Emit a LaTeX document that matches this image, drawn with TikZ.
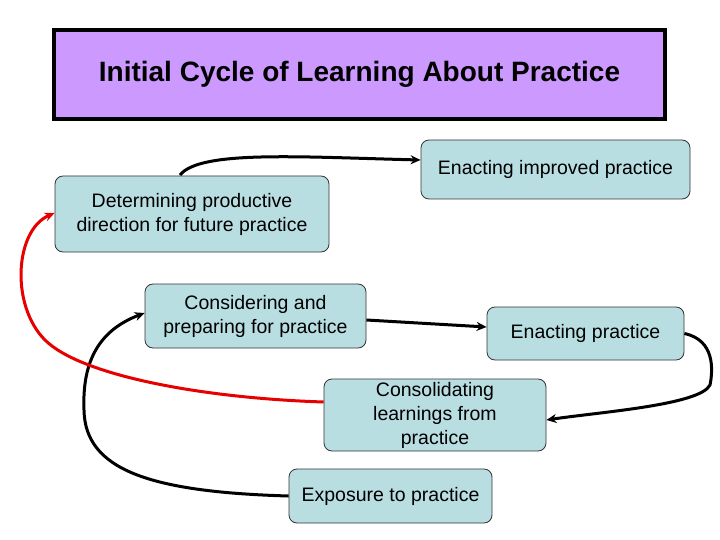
\documentclass[tikz,border=0pt]{standalone}
\usepackage{fontspec}
\setmainfont{Liberation Sans}
\usetikzlibrary{arrows.meta}
\definecolor{boxfill}{RGB}{185,222,226}
\definecolor{titlefill}{RGB}{204,153,255}
\definecolor{arrred}{RGB}{230,0,0}
\begin{document}
\begin{tikzpicture}[x=1pt,y=-1pt,
  stepbox/.style={draw=black!80,line width=0.8pt,fill=boxfill,rounded corners=8pt,
    align=center,inner sep=2pt,font=\fontsize{19.5}{24}\selectfont},
  conn/.style={line width=3pt,-{Stealth[length=10pt,width=9pt]}},
  redconn/.style={conn,draw=arrred,color=arrred}]
\useasboundingbox (0,0) rectangle (720,540);
\node[draw=black,line width=4pt,fill=titlefill,minimum width=611pt,minimum height=89pt,
  font=\fontsize{28}{32}\selectfont\bfseries] (title) at (359.5,74.5)
  {Initial Cycle of Learning About Practice};
\node[stepbox,minimum width=269pt,minimum height=59pt] (imp) at (555.5,169.5) {Enacting improved practice};
\node[stepbox,minimum width=274pt,minimum height=76pt] (det) at (192,214) {Determining productive\\direction for future practice};
\node[stepbox,minimum width=221pt,minimum height=64pt] (con) at (255.5,316) {Considering and\\preparing for practice};
\node[stepbox,minimum width=197pt,minimum height=53pt] (enp) at (585.5,333.5) {Enacting practice};
\node[stepbox,minimum width=222pt,minimum height=72pt] (cons) at (435,415) {Consolidating\\learnings from\\practice};
\node[stepbox,minimum width=203pt,minimum height=54pt] (exp) at (390.5,496) {Exposure to practice};
\coordinate (detTop) at (180,175);
\draw[conn] (detTop) .. controls (200,150) and (300,157) .. (imp.west |- 0,160);
\draw[conn] (con.east |- 0,320) -- (enp.west |- 0,327);
\draw[conn] (enp.east) .. controls (715,340) and (713,370) .. (710,385)
  .. controls (700,405) and (600,412) .. (cons.east |- 0,420);
\draw[conn] (exp.west) .. controls (150,492) and (85,470) .. (84,410)
  .. controls (82,360) and (100,330) .. (con.west |- 0,313);
\draw[redconn] (cons.west |- 0,402) .. controls (200,398) and (80,375) .. (45,340)
  .. controls (10,305) and (15,230) .. (det.west |- 0,213);
\end{tikzpicture}
\end{document}
